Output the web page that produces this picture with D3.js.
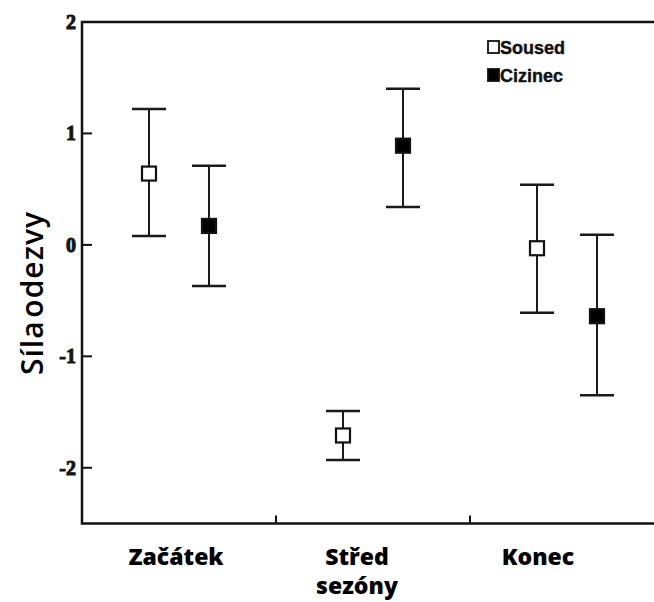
<!DOCTYPE html>
<html>
<head>
<meta charset="utf-8">
<script src="https://cdn.jsdelivr.net/npm/d3@7"></script>
<style>
  body { margin: 0; background: #fff; }
  svg { display: block; }
</style>
</head>
<body>
<div id="chart"></div>
<script>
// data
var categories = ["Začátek", "Střed", "Konec"],
	series = ["Soused", "Cizinec"],
	means = {
		Soused: [0.64, -1.71, -0.03],
		Cizinec: [0.17, 0.89, -0.64]
	},
	upper = {
		Soused: [1.22, -1.49, 0.54],
		Cizinec: [0.71, 1.40, 0.09]
	},
	lower = {
		Soused: [0.08, -1.93, -0.61],
		Cizinec: [-0.37, 0.34, -1.35]
	},
	yTicks = [-2, -1, 0, 1, 2];

var width = 654,
	height = 602,
	LEFT = 82,
	TOP = 22,
	BOTTOM = 523.5,
	RIGHT = 664,
	BOX = 16,
	CAP = 34;

var svg = d3.select("#chart").append("svg")
	.attr("width", width)
	.attr("height", height);

var y = d3.scaleLinear().domain([-2.5, 2]).range([BOTTOM, TOP]);
var x = d3.scaleBand().domain(categories).range([LEFT, RIGHT]);
var xs = d3.scaleBand().domain(series).range([-60, 60]);

// frame
svg.append("rect")
	.attr("x", LEFT).attr("y", TOP)
	.attr("width", RIGHT - LEFT).attr("height", BOTTOM - TOP)
	.style("fill", "none").style("stroke", "#111").style("stroke-width", 2.5);

// y ticks, pointing inwards
var yAxis = svg.append("g");
yAxis.selectAll("line").data(yTicks.filter(function(d) { return d < 2; }))
	.enter().append("line")
	.attr("x1", LEFT).attr("x2", LEFT + 10)
	.attr("y1", function(d) { return y(d); })
	.attr("y2", function(d) { return y(d); })
	.style("stroke", "#111").style("stroke-width", 2);

// the serif bold face looks thin here, so thicken it with a stroke
yAxis.selectAll("text").data(yTicks)
	.enter().append("text")
	.attr("x", LEFT - 6)
	.attr("y", function(d) { return y(d) + 7; })
	.text(function(d) { return d; })
	.style("font-family", "'Liberation Serif', serif")
	.style("font-weight", "bold")
	.style("font-size", "20px")
	.style("fill", "#141414")
	.style("stroke", "#141414")
	.style("stroke-width", 1)
	.style("text-anchor", "end");

// x ticks between the groups
svg.append("g").selectAll("line").data(categories.slice(1))
	.enter().append("line")
	.attr("x1", function(d) { return x(d); })
	.attr("x2", function(d) { return x(d); })
	.attr("y1", BOTTOM).attr("y2", BOTTOM - 8)
	.style("stroke", "#111").style("stroke-width", 2);

// category labels (the reference shifts them a bit left of the group centres)
var labelShift = [-3, -16, -29];
svg.append("g").selectAll("text").data(categories)
	.enter().append("text")
	.attr("x", function(d, i) { return x(d) + x.bandwidth() / 2 + labelShift[i]; })
	.attr("y", 565)
	.style("font-family", "'Open Sans', sans-serif")
	.style("font-weight", 800)
	.style("font-size", "23px")
	.style("fill", "#000")
	.style("text-anchor", "middle")
	.text(function(d) { return d; });

svg.append("text")
	.attr("x", x("Střed") + x.bandwidth() / 2 + labelShift[1])
	.attr("y", 594)
	.style("font-family", "'Open Sans', sans-serif")
	.style("font-weight", 800)
	.style("font-size", "23px")
	.style("text-anchor", "middle")
	.text("sezóny");

// y title
svg.append("text")
	.attr("transform", "translate(43,293) rotate(-90)")
	.style("font-family", "'Open Sans', sans-serif")
	.style("font-weight", 600)
	.style("font-size", "30px")
	.style("letter-spacing", "1px")
	.style("word-spacing", "-6px")
	.style("text-anchor", "middle")
	.text("Síla odezvy");

// error bars and means
series.forEach(function(s) {
	var g = svg.append("g").attr("class", "series-" + s);
	var cx = function(d) { return x(categories[d]) + x.bandwidth() / 2 + xs(s) + xs.bandwidth() / 2; };
	var idx = d3.range(categories.length);

	g.selectAll(".stem").data(idx).enter().append("line")
		.attr("x1", cx)
		.attr("x2", cx)
		.attr("y1", function(d) { return y(upper[s][d]); })
		.attr("y2", function(d) { return y(lower[s][d]); })
		.style("stroke", "#1a1a1a").style("stroke-width", 2);

	[upper[s], lower[s]].forEach(function(vals) {
		g.selectAll(null).data(idx).enter().append("line")
			.attr("x1", function(d) { return cx(d) - CAP / 2; })
			.attr("x2", function(d) { return cx(d) + CAP / 2; })
			.attr("y1", function(d) { return y(vals[d]); })
			.attr("y2", function(d) { return y(vals[d]); })
			.style("stroke", "#1a1a1a").style("stroke-width", 2.5);
	});

	g.selectAll(".mean").data(idx).enter().append("rect")
		.attr("x", function(d) { return cx(d) - BOX / 2 + 1; })
		.attr("y", function(d) { return y(means[s][d]) - BOX / 2 + 1; })
		.attr("width", BOX - 2).attr("height", BOX - 2)
		.style("fill", s === "Soused" ? "#fff" : "#000")
		.style("stroke", "#111").style("stroke-width", 2.2);
});

// legend
var legend = svg.append("g").selectAll("g").data(series)
	.enter().append("g")
	.attr("transform", function(d, i) { return "translate(488," + (47 + i * 28) + ")"; });

legend.append("rect")
	.attr("x", 0).attr("y", -6).attr("width", 11).attr("height", 12)
	.style("fill", function(d) { return d === "Soused" ? "#fff" : "#000"; })
	.style("stroke", "#111").style("stroke-width", 1.8);

legend.append("text")
	.attr("x", 12).attr("y", 6.5)
	.style("font-family", "'Liberation Sans', Arial, sans-serif")
	.style("font-weight", "bold")
	.style("font-size", "18px")
	.style("fill", "#111")
	.style("stroke", "#111")
	.style("stroke-width", 0.4)
	.text(function(d) { return d; });
</script>
</body>
</html>
